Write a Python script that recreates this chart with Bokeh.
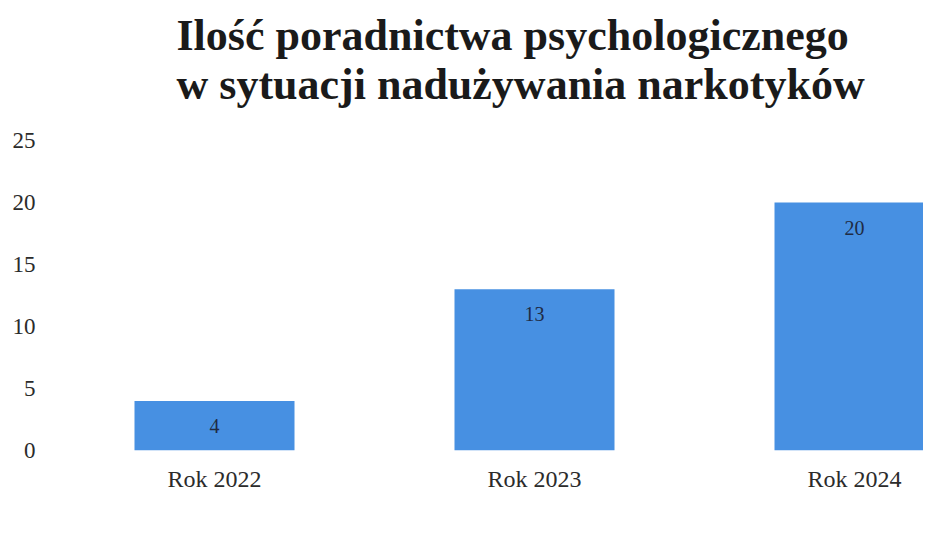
from bokeh.plotting import figure
from bokeh.models import Range1d, FixedTicker, Legend, LegendItem, ColumnDataSource
from bokeh.core.properties import value
from bokeh.embed import file_html
from bokeh.resources import INLINE

categories = ["Rok 2022", "Rok 2023", "Rok 2024"]
values = [4, 13, 20]
y_ticks = [0, 5, 10, 15, 20, 25]
title_lines = ["Ilość poradnictwa psychologicznego", "w sytuacji nadużywania narkotyków"]
series_name = "Ilość poradnictwa psychologicznego w sytuacji nadużywania narkotyków"

FONT = "Liberation Serif"
BAR = "#4790e2"

idx = list(range(len(categories)))
src = ColumnDataSource(dict(x=idx, top=values, lbl=[str(v) for v in values]))

p = figure(frame_width=869, frame_height=330, output_backend="svg", toolbar_location=None,
           x_range=Range1d(-0.5, 2.2156), y_range=Range1d(0, 26.613),
           min_border_left=0, min_border_right=0, min_border_top=0, min_border_bottom=0)
p.outline_line_color = None
p.grid.grid_line_color = None
p.background_fill_color = "white"

p.title.text = "\n".join(title_lines)
p.title.align = "left"
p.title.vertical_align = "top"
p.title.offset = 122
p.title.standoff = 20
p.title.text_font = FONT
p.title.text_font_size = "44px"
p.title.text_font_style = "bold"
p.title.text_color = "#1a1a1a"

r = p.vbar(x="x", top="top", bottom=0, width=0.5, source=src, fill_color=BAR, line_color=None)
p.text(x="x", y="top", text="lbl", source=src, y_offset=25, text_align="center",
       text_baseline="middle", text_font=value(FONT), text_font_size="20px", text_color="#1f2b44")

p.yaxis.ticker = FixedTicker(ticks=y_ticks)
p.yaxis.axis_line_color = None
p.yaxis.major_tick_line_color = None
p.yaxis.minor_tick_line_color = None
p.yaxis.major_label_standoff = 13
p.yaxis.major_label_text_font = FONT
p.yaxis.major_label_text_font_size = "23px"
p.yaxis.major_label_text_color = "#2b2b2b"
p.yaxis.axis_label = " "
p.yaxis.axis_label_text_font_size = "5px"
p.yaxis.axis_label_standoff = 0

p.xaxis.ticker = FixedTicker(ticks=idx)
p.xaxis.major_label_overrides = {i: c for i, c in zip(idx, categories)}
p.xaxis.axis_line_color = None
p.xaxis.major_tick_line_color = None
p.xaxis.minor_tick_line_color = None
p.xaxis.major_label_standoff = 9
p.xaxis.major_label_text_font = FONT
p.xaxis.major_label_text_font_size = "24px"
p.xaxis.major_label_text_color = "#2b2b2b"
p.xaxis.axis_label = "."
p.xaxis.axis_label_text_alpha = 0
p.xaxis.axis_label_text_font_size = "6px"
p.xaxis.axis_label_standoff = 2

legend = Legend(items=[LegendItem(label=series_name, renderers=[r])], location=(107, -80),
                orientation="horizontal", label_text_font=FONT, label_text_font_size="23px",
                label_text_color="#222222", glyph_width=11, glyph_height=11, label_standoff=6,
                border_line_color=None, background_fill_alpha=0, padding=0, margin=0)
p.add_layout(legend)

open("out.html", "w").write(file_html(p, INLINE))
